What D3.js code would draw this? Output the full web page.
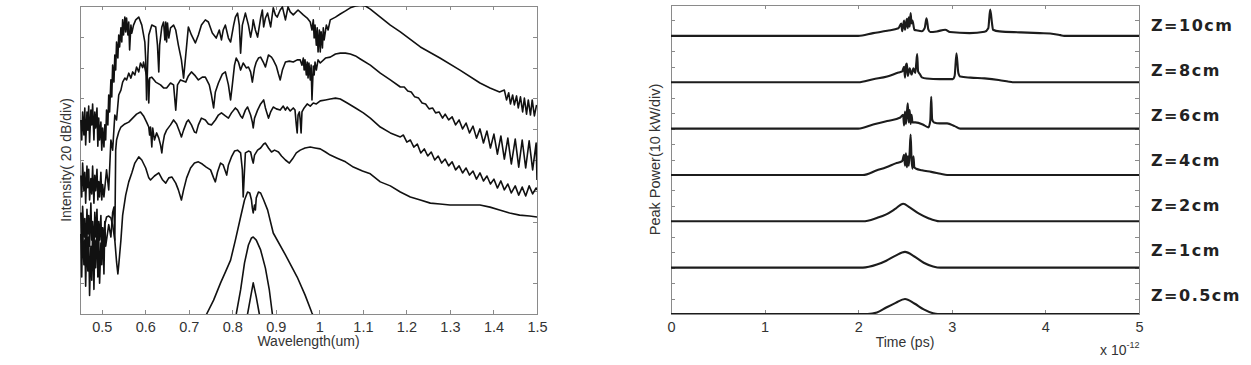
<!DOCTYPE html>
<html>
<head>
<meta charset="utf-8" />
<style>
  body { margin: 0; background: #fff; }
  svg text { font-family: 'Liberation Sans', Arial, sans-serif; fill: #333; }
  .frame { fill: none; stroke: #8a8a8a; stroke-width: 1; shape-rendering: crispEdges; }
  .ax line { stroke: #8a8a8a; shape-rendering: crispEdges; }
  .ax path { display: none; }
  .ax text { font-size: 14.5px; fill: #333; }
  .spec { fill: none; stroke: #111; stroke-width: 1.6; stroke-linejoin: round; }
  .pulse { fill: none; stroke: #1c1c1c; stroke-width: 2.1; stroke-linejoin: round; }
  .zlab { font-family: 'DejaVu Sans', sans-serif !important; font-weight: bold; font-size: 16px; letter-spacing: 1.5px; fill: #222 !important; }
</style>
</head>
<body>
<svg id="chart" width="1251" height="365"></svg>

<script src="https://d3js.org/d3.v7.min.js"></script>
<script>

//// data: left panel, spectra (wavelength um, intensity in divisions of 20 dB) ////
var wlTicks = [0.5, 0.6, 0.7, 0.8, 0.9, 1, 1.1, 1.2, 1.3, 1.4, 1.5];
var divTicksL = [0, 1, 2, 3, 4, 5, 6, 7, 8, 9, 10];

var specA = [
[0.452,6.30],[0.454,5.65],[0.456,6.56],[0.459,5.81],[0.461,6.69],[0.463,5.49],[0.466,6.56],[0.468,5.97],[0.470,6.75],[0.472,5.58],[0.475,6.62],[0.477,6.14],[0.479,6.82],[0.482,5.65],[0.484,6.56],[0.486,6.04],[0.489,6.69],[0.491,5.45],[0.493,6.36],[0.495,5.65],[0.498,6.23],[0.500,5.32],[0.502,6.04],[0.505,5.42],
[0.507,6.14],[0.509,5.65],[0.511,6.62],[0.514,6.14],[0.516,7.11],[0.518,6.56],[0.521,7.60],[0.523,7.05],[0.525,8.08],[0.528,7.53],[0.530,8.41],[0.532,7.92],[0.534,8.83],[0.537,8.31],[0.539,9.06],[0.541,8.67],[0.544,9.29],[0.546,8.83],[0.548,9.55],[0.550,9.06],[0.553,9.64],[0.555,9.16],[0.557,9.61],[0.560,9.06],[0.562,9.48],[0.564,8.57],[0.567,9.38],[0.569,9.12],[0.573,9.38],[0.578,9.55],[0.585,9.64],[0.592,9.38],[0.599,8.83],[0.601,8.25],[0.603,6.95],[0.606,8.41],[0.608,9.06],[0.615,9.38],[0.624,9.32],[0.628,8.73],[0.631,7.86],[0.633,8.73],[0.638,9.32],[0.642,9.48],[0.645,8.90],[0.647,9.48],[0.649,8.83],[0.651,9.45],[0.654,8.96],[0.658,9.29],[0.665,9.38],[0.670,9.22],[0.676,8.73],[0.683,8.25],[0.688,7.66],[0.693,8.41],[0.699,9.32],[0.706,9.06],[0.715,8.80],[0.722,9.06],[0.729,9.38],[0.738,9.55],[0.745,9.48],[0.754,9.12],[0.763,8.96],[0.770,9.22],[0.775,8.90],[0.779,9.22],[0.784,9.38],[0.791,8.96],[0.796,8.83],[0.803,9.38],[0.807,9.64],[0.812,9.77],[0.816,9.38],[0.819,8.47],[0.823,9.38],[0.830,9.77],[0.837,9.38],[0.842,8.99],[0.846,9.29],[0.848,9.55],[0.853,9.22],[0.858,8.99],[0.865,9.61],[0.869,9.87],[0.872,9.32],[0.876,9.61],[0.881,9.77],[0.888,9.32],[0.894,9.94],[0.899,9.71],[0.903,9.64],[0.910,9.87],[0.915,9.97],[0.922,9.55],[0.928,9.97],[0.933,9.81],[0.940,9.71],[0.951,9.87],[0.963,9.71],[0.972,9.61],[0.979,9.48],
[0.983,9.22],[0.986,9.55],[0.988,8.96],[0.990,9.38],[0.993,8.73],[0.995,9.29],[0.997,8.51],[1.000,9.22],[1.002,8.51],[1.004,9.16],[1.007,8.64],[1.009,9.29],[1.011,8.90],[1.016,9.38],[1.020,9.22],[1.025,9.55],[1.037,9.64],[1.048,9.74],[1.060,9.84],[1.071,9.94],[1.083,10.0],[1.094,10.03],[1.106,10.0],[1.117,9.90],[1.140,9.64],[1.163,9.38],[1.186,9.16],[1.232,8.67],[1.277,8.31],[1.323,7.92],[1.369,7.50],[1.392,7.34],[1.414,7.21],
[1.425,7.27],[1.430,6.95],[1.435,7.18],[1.439,6.82],[1.444,7.11],[1.448,6.79],[1.453,7.08],[1.457,6.69],[1.462,7.05],[1.467,6.56],[1.471,7.01],[1.476,6.49],[1.480,6.95],[1.485,6.46],[1.489,6.95],[1.494,6.43],[1.499,6.79]
];

var specB = [
[0.452,4.5],[0.454,3.8],[0.456,4.9],[0.459,4.0],[0.461,4.6],[0.463,3.6],[0.466,4.8],[0.468,4.1],[0.470,4.7],[0.472,3.7],[0.475,4.4],[0.477,3.9],[0.479,4.8],[0.482,3.6],[0.484,4.5],[0.486,4.0],[0.489,4.7],[0.491,3.7],[0.493,4.3],[0.495,3.8],[0.498,4.6],[0.500,3.7],[0.502,4.2],[0.505,3.8],
[0.511,4.68],[0.516,4.03],[0.521,5.65],[0.525,5.32],[0.530,6.46],[0.534,6.30],[0.539,7.11],[0.544,7.27],[0.548,7.53],[0.553,7.66],[0.557,7.60],[0.562,7.82],[0.567,7.66],[0.571,7.86],[0.576,7.76],[0.580,8.02],[0.585,7.86],[0.589,8.15],[0.594,8.00],[0.596,8.18],[0.601,7.86],[0.606,7.60],[0.608,6.85],[0.610,7.66],[0.615,7.69],[0.624,7.53],[0.635,7.44],[0.642,7.34],[0.649,7.34],[0.658,7.50],[0.665,7.44],[0.670,6.62],[0.674,7.44],[0.681,7.60],[0.693,7.53],[0.699,7.73],[0.706,7.86],[0.715,7.73],[0.722,7.60],[0.731,7.69],[0.738,7.69],[0.747,7.44],[0.752,7.11],[0.757,6.69],[0.761,7.21],[0.768,7.50],[0.777,7.79],[0.784,7.86],[0.791,7.44],[0.796,6.95],[0.800,7.44],[0.805,8.08],[0.809,8.31],[0.814,8.18],[0.819,7.92],[0.825,8.15],[0.832,7.99],[0.837,8.02],[0.842,7.86],[0.846,7.53],[0.851,7.99],[0.855,8.18],[0.860,8.31],[0.865,8.34],[0.872,8.15],[0.876,8.02],[0.883,8.41],[0.890,8.34],[0.894,8.25],[0.901,8.05],[0.906,7.79],[0.910,7.60],[0.915,7.92],[0.922,8.18],[0.931,8.21],[0.940,8.18],[0.949,8.25],[0.956,8.25],
[0.960,8.08],[0.963,8.31],[0.965,7.92],[0.967,8.25],[0.970,7.76],[0.972,8.18],[0.974,7.66],[0.976,8.15],[0.979,7.60],[0.981,8.08],[0.983,6.95],[0.986,8.05],[0.988,7.76],[0.990,8.18],[0.993,7.92],[0.997,8.25],[1.002,8.15],[1.014,8.31],[1.025,8.34],[1.037,8.44],[1.048,8.47],[1.060,8.47],[1.071,8.44],[1.083,8.38],[1.094,8.28],[1.117,8.08],[1.140,7.82],[1.163,7.60],[1.186,7.37],
[1.195,7.37],[1.203,7.24],[1.211,7.21],[1.219,7.05],[1.228,7.01],[1.236,6.85],[1.244,6.82],[1.252,6.66],[1.260,6.69],[1.267,6.53],[1.275,6.56],[1.283,6.36],
[1.289,6.49],[1.297,6.30],[1.305,6.40],[1.313,6.14],[1.321,6.30],[1.329,6.01],[1.337,6.20],[1.345,5.88],[1.353,6.10],[1.361,5.71],[1.369,6.01],[1.377,5.55],[1.385,5.94],[1.393,5.39],[1.401,5.84],[1.409,5.19],[1.417,5.78],[1.425,5.03],[1.433,5.71],[1.441,4.87],[1.450,5.68],[1.458,4.77],[1.466,5.65],[1.474,4.74],[1.482,5.62],[1.490,4.68],[1.498,5.55],[1.500,4.35]
];

var specC = [
[0.452,3.3],[0.454,2.3],[0.456,3.5],[0.459,2.5],[0.461,3.1],[0.463,2.0],[0.466,3.4],[0.468,2.6],[0.470,3.2],[0.472,2.2],[0.475,3.6],[0.477,2.4],[0.479,3.0],[0.482,2.1],[0.484,3.3],[0.486,2.5],[0.489,3.4],[0.491,2.2],[0.493,3.0],[0.495,2.4],[0.498,3.2],[0.500,2.0],[0.502,2.8],[0.505,2.3],[0.507,3.0],[0.509,2.2],
[0.516,2.9],[0.521,2.5],[0.525,3.3],[0.528,3.47],[0.530,2.40],[0.532,5.32],[0.534,5.65],[0.539,5.91],[0.544,6.07],[0.553,6.17],[0.562,6.23],[0.571,6.36],[0.580,6.49],[0.589,6.56],[0.596,6.43],[0.603,6.23],[0.608,6.07],[0.610,5.81],[0.612,6.07],[0.615,5.42],[0.617,6.04],[0.621,5.65],[0.626,5.88],[0.631,5.71],[0.635,5.49],[0.638,5.23],[0.640,5.49],[0.644,5.81],[0.649,5.97],[0.658,6.14],[0.665,6.30],[0.672,6.17],[0.679,5.91],[0.683,5.75],[0.688,5.97],[0.695,6.23],[0.699,6.30],[0.706,6.14],[0.713,5.91],[0.717,5.88],[0.722,6.14],[0.729,6.36],[0.738,6.30],[0.745,6.17],[0.752,6.14],[0.761,6.30],[0.768,6.46],[0.775,6.53],[0.784,6.43],[0.791,6.36],[0.798,6.53],[0.807,6.69],[0.812,6.62],[0.819,6.43],[0.823,6.36],[0.830,6.62],[0.835,6.72],[0.842,6.46],[0.846,6.23],[0.848,6.04],[0.851,6.36],[0.858,6.62],[0.865,6.82],[0.872,6.95],[0.876,6.69],[0.883,6.36],[0.888,6.56],[0.894,6.72],[0.901,6.66],[0.910,6.62],[0.917,6.75],[0.922,6.62],[0.926,6.72],[0.933,6.59],[0.940,6.69],[0.944,6.62],[0.947,6.14],[0.949,5.88],[0.951,6.46],[0.954,6.56],[0.956,6.30],[0.958,5.88],[0.960,6.56],[0.965,6.69],[0.972,6.82],[0.979,6.75],[0.986,6.85],[0.993,6.82],[1.002,6.92],[1.014,6.95],[1.025,6.98],[1.037,7.01],[1.048,6.98],[1.064,6.85],[1.083,6.69],[1.101,6.53],[1.117,6.36],[1.140,6.07],[1.163,5.88],[1.186,5.75],
[1.193,5.81],[1.201,5.58],[1.209,5.65],[1.217,5.42],[1.225,5.52],[1.233,5.23],[1.241,5.36],[1.249,5.13],[1.257,5.26],[1.265,5.00],[1.273,5.13],[1.281,4.90],[1.289,5.03],[1.297,4.81],[1.305,4.94],[1.313,4.68],[1.321,4.81],[1.329,4.58],[1.337,4.74],[1.345,4.51],[1.353,4.64],[1.361,4.38],[1.369,4.58],[1.377,4.32],[1.385,4.48],[1.393,4.22],[1.401,4.38],[1.409,4.09],[1.417,4.32],[1.425,4.03],[1.433,4.22],[1.441,3.93],[1.450,4.16],[1.458,3.86],[1.466,4.12],[1.474,3.83],[1.482,4.16],[1.490,3.90],[1.498,4.09],[1.500,4.03]
];

var specD = [
[0.452,2.6],[0.454,1.2],[0.456,2.9],[0.459,1.6],[0.461,2.4],[0.463,0.9],[0.466,2.7],[0.468,1.4],[0.470,2.5],[0.472,0.6],[0.475,2.2],[0.477,1.1],[0.479,2.8],[0.482,0.8],[0.484,2.4],[0.486,1.5],[0.489,2.9],[0.491,1.2],[0.493,2.6],[0.495,1.0],[0.498,2.3],[0.500,1.6],[0.502,2.8],[0.505,1.3],[0.507,2.9],
[0.511,3.15],[0.516,3.18],[0.521,3.12],[0.525,2.89],[0.530,2.40],[0.534,1.69],[0.537,1.30],[0.539,1.59],[0.544,2.40],[0.548,3.21],[0.555,3.86],[0.562,4.29],[0.569,4.58],[0.576,4.90],[0.585,5.10],[0.592,5.00],[0.601,4.74],[0.608,4.42],[0.612,4.35],[0.621,4.48],[0.631,4.58],[0.640,4.35],[0.647,4.25],[0.654,4.42],[0.661,4.45],[0.670,4.25],[0.676,4.03],[0.683,3.70],[0.688,4.03],[0.695,4.42],[0.704,4.74],[0.713,4.90],[0.722,4.94],[0.731,4.87],[0.740,4.77],[0.750,4.68],[0.757,4.42],[0.761,4.29],[0.766,4.61],[0.773,4.90],[0.779,4.84],[0.787,4.51],[0.791,4.84],[0.798,5.10],[0.805,5.29],[0.812,5.32],[0.819,5.23],[0.823,4.68],[0.825,3.80],[0.828,4.68],[0.830,5.23],[0.837,5.29],[0.842,5.26],[0.846,5.00],[0.848,4.90],[0.851,5.16],[0.858,5.32],[0.865,5.39],[0.872,5.52],[0.876,5.55],[0.883,5.39],[0.890,5.26],[0.897,5.32],[0.906,5.26],[0.913,5.13],[0.922,5.00],[0.931,4.90],[0.938,5.03],[0.947,5.23],[0.956,5.32],[0.967,5.39],[0.979,5.42],[0.990,5.39],[1.002,5.36],[1.014,5.26],[1.025,5.16],[1.041,5.06],[1.060,4.94],[1.078,4.77],[1.099,4.64],[1.117,4.55],[1.140,4.29],[1.163,4.16],[1.186,3.96],[1.209,3.80],[1.232,3.70],[1.255,3.60],[1.277,3.57],[1.300,3.54],[1.323,3.54],[1.346,3.54],[1.369,3.54],[1.392,3.47],[1.414,3.38],[1.437,3.28],[1.460,3.21],[1.483,3.18],[1.500,3.15]
];

var specE = [
[0.736,-0.36],[0.741,0],[0.757,0.45],[0.773,1.01],[0.784,1.36],[0.796,1.75],[0.807,2.40],[0.819,3.15],[0.828,3.70],[0.835,3.96],[0.840,3.93],[0.844,3.70],[0.846,3.44],[0.848,3.28],[0.851,3.54],[0.853,3.38],[0.855,3.77],[0.860,3.96],[0.865,3.93],[0.872,3.70],[0.881,3.38],[0.894,2.63],[0.922,1.92],[0.949,1.20],[0.967,0.62],[0.983,0.03],[0.993,-0.26]
];
var specF = [
[0.805,-0.26],[0.809,0],[0.819,0.78],[0.828,1.66],[0.837,2.24],[0.844,2.47],[0.848,2.50],[0.855,2.40],[0.865,2.08],[0.876,1.49],[0.885,0.78],[0.892,0],[0.894,-0.26]
];
var specG = [
[0.832,-0.26],[0.835,0],[0.842,0.55],[0.848,1.01],[0.855,0.55],[0.862,0],[0.865,-0.26]
];

//// data: right panel, pulses (time ps, peak power in divisions of 10 kW, above each trace's baseline) ////
var timeTicks = [0, 1, 2, 3, 4, 5];
var divTicksR = d3.range(0, 21);
var zLabels = ["Z=0.5cm", "Z=1cm", "Z=2cm", "Z=4cm", "Z=6cm", "Z=8cm", "Z=10cm"];

var p05 = [[0,0],[2.1,0],[2.2,0.1],[2.3,0.42],[2.4,0.72],[2.5,0.97],[2.6,0.68],[2.7,0.3],[2.8,0.05],[2.85,0],[5,0]];
var p1 = [[0,0],[2.05,0],[2.2,0.2],[2.3,0.45],[2.4,0.78],[2.5,1.02],[2.6,0.72],[2.7,0.32],[2.8,0.08],[2.88,0],[5,0]];
var p2 = [[0,0],[2.05,0],[2.2,0.22],[2.3,0.45],[2.4,0.82],[2.48,1.14],[2.55,0.9],[2.65,0.5],[2.75,0.2],[2.87,0],[5,0]];
var p4 = [[0,0],[2.05,0],[2.2,0.3],[2.3,0.5],[2.4,0.75],[2.47,0.9],[2.49,1.3],[2.5,0.6],[2.51,1.4],[2.52,0.5],[2.53,1.2],[2.54,0.6],[2.55,1.5],[2.56,2.62],[2.57,1.0],[2.58,0.4],[2.59,1.2],[2.6,0.5],[2.62,0.4],[2.68,0.3],[2.78,0.2],[2.88,0.08],[2.95,0],[5,0]];
var p6 = [[0,0],[2.0,0],[2.16,0.27],[2.31,0.49],[2.45,0.72],[2.48,0.9],[2.49,0.2],[2.5,1.1],[2.51,0.3],[2.52,1.0],[2.53,1.64],[2.54,0.4],[2.55,1.2],[2.56,0.3],[2.57,0.9],[2.58,0.4],[2.61,0.4],[2.69,0.27],[2.75,0.08],[2.77,0.5],[2.78,2.06],[2.79,0.6],[2.81,0.4],[2.87,0.34],[2.95,0.34],[3.03,0.16],[3.09,0],[5,0]];
var p8 = [[0,0],[2.0,0],[2.16,0.2],[2.31,0.37],[2.43,0.63],[2.47,0.7],[2.49,1.0],[2.5,0.3],[2.51,1.1],[2.52,1.21],[2.53,0.4],[2.55,0.9],[2.57,0.5],[2.59,0.9],[2.61,0.6],[2.62,1.2],[2.63,1.82],[2.64,0.7],[2.66,0.52],[2.68,0.32],[2.73,0.24],[2.87,0.2],[3.01,0.2],[3.03,0.4],[3.05,1.88],[3.07,0.6],[3.09,0.37],[3.2,0.3],[3.35,0.25],[3.5,0.15],[3.6,0.05],[3.65,0],[5,0]];
var p10 = [[0,0],[2.0,0],[2.16,0.18],[2.31,0.33],[2.43,0.49],[2.46,0.8],[2.47,0.3],[2.49,1.0],[2.5,0.4],[2.52,1.1],[2.53,0.5],[2.54,1.2],[2.55,0.6],[2.56,1.48],[2.57,0.8],[2.58,1.0],[2.6,0.4],[2.63,0.35],[2.68,0.3],[2.71,0.5],[2.73,1.14],[2.75,0.4],[2.77,0.25],[2.84,0.29],[2.93,0.4],[2.98,0.25],[3.19,0.18],[3.35,0.27],[3.39,0.5],[3.41,1.7],[3.43,0.8],[3.44,0.4],[3.51,0.29],[3.73,0.23],[3.94,0.18],[4.05,0.16],[4.16,0.05],[4.2,0],[5,0]];

var pulses = [p05, p1, p2, p4, p6, p8, p10];
var stepDiv = 3;   // each pulse sits 3 divisions above the previous one

//// layout ////
var svg = d3.select("#chart");

var xL = d3.scaleLinear().domain([0.45, 1.5]).range([80, 537]);
var yL = d3.scaleLinear().domain([0, 10]).range([314, 6]);
var xR = d3.scaleLinear().domain([0, 5]).range([671, 1139]);
var yR = d3.scaleLinear().domain([0, 20]).range([314, 5]);

var defs = svg.append("defs");
function addClip(id, x, y) {
  defs.append("clipPath").attr("id", id).append("rect")
    .attr("x", x.range()[0]).attr("y", y.range()[1])
    .attr("width", x.range()[1] - x.range()[0])
    .attr("height", y.range()[0] - y.range()[1]);
}
addClip("clipL", xL, yL);
addClip("clipR", xR, yR);

// frame with inward ticks on all four sides (matlab style box)
function drawFrame(x, y, xTicks, yTicks) {
  var w = x.range()[1] - x.range()[0], h = y.range()[0] - y.range()[1];
  svg.append("g").attr("class", "ax")
    .attr("transform", "translate(0," + y.range()[0] + ")")
    .call(d3.axisBottom(x).tickValues(xTicks).tickSizeInner(-4).tickSizeOuter(0)
      .tickPadding(8).tickFormat(d3.format("~g")));
  svg.append("g").attr("class", "ax")
    .attr("transform", "translate(0," + y.range()[1] + ")")
    .call(d3.axisTop(x).tickValues(xTicks).tickSizeInner(-4).tickSizeOuter(0).tickFormat(""));
  svg.append("g").attr("class", "ax")
    .attr("transform", "translate(" + x.range()[0] + ",0)")
    .call(d3.axisLeft(y).tickValues(yTicks).tickSizeInner(-4).tickSizeOuter(0).tickFormat(""));
  svg.append("g").attr("class", "ax")
    .attr("transform", "translate(" + x.range()[1] + ",0)")
    .call(d3.axisRight(y).tickValues(yTicks).tickSizeInner(-4).tickSizeOuter(0).tickFormat(""));
  svg.append("rect").attr("class", "frame")
    .attr("x", x.range()[0]).attr("y", y.range()[1])
    .attr("width", w).attr("height", h);
}

//// left: spectra ////
drawFrame(xL, yL, wlTicks, divTicksL);

var specLine = d3.line()
  .x(function(d) { return xL(d[0]); })
  .y(function(d) { return yL(d[1]); });

svg.append("g").attr("clip-path", "url(#clipL)")
  .selectAll("path")
  .data([specA, specB, specC, specD, specE, specF, specG])
  .enter().append("path")
  .attr("class", "spec")
  .attr("d", specLine);

svg.append("text")
  .attr("x", d3.mean(xL.range())).attr("y", 346)
  .attr("text-anchor", "middle").style("font-size", "14px")
  .text("Wavelength(um)");

svg.append("text")
  .attr("transform", "translate(71," + d3.mean(yL.range()) + ") rotate(-90)")
  .attr("text-anchor", "middle").style("font-size", "14px")
  .text("Intensity( 20 dB/div)");

//// right: pulses ////
drawFrame(xR, yR, timeTicks, divTicksR);

svg.append("g").attr("clip-path", "url(#clipR)")
  .selectAll("path")
  .data(pulses)
  .enter().append("path")
  .attr("class", "pulse")
  .attr("d", function(p, i) {
    return d3.line()
      .curve(d3.curveMonotoneX)
      .x(function(d) { return xR(d[0]); })
      .y(function(d) { return yR(d[1] + i * stepDiv); })(p);
  });

svg.append("text")
  .attr("x", d3.mean(xR.range())).attr("y", 347)
  .attr("text-anchor", "middle").style("font-size", "14px")
  .text("Time (ps)");

svg.append("text")
  .attr("transform", "translate(660," + d3.mean(yR.range()) + ") rotate(-90)")
  .attr("text-anchor", "middle").style("font-size", "14.5px")
  .text("Peak Power(10 kW/div)");

var expo = svg.append("text").attr("x", 1100).attr("y", 355).style("font-size", "14px");
expo.append("tspan").text("x 10");
expo.append("tspan").attr("dy", -7).style("font-size", "9px").text("-12");

// trace labels, evenly spaced down the right side
var labelY = d3.scaleLinear().domain([0, zLabels.length - 1]).range([301, 31]);
svg.selectAll(".zlab")
  .data(zLabels)
  .enter().append("text")
  .attr("class", "zlab")
  .attr("x", 1151)
  .attr("y", function(d, i) { return labelY(i); })
  .text(function(d) { return d; });

</script>
</body>
</html>
